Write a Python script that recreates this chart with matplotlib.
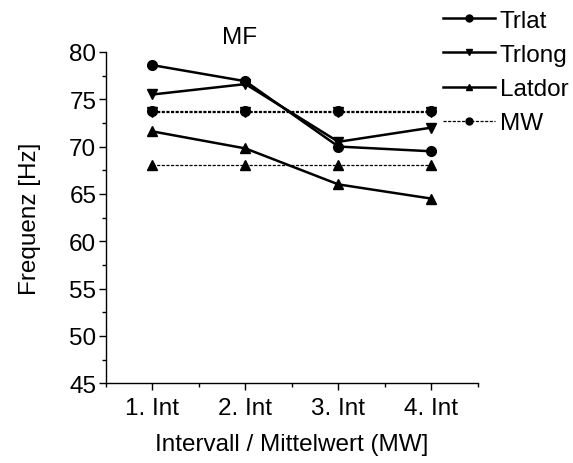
import matplotlib
matplotlib.use("Agg")
import matplotlib.pyplot as plt
from matplotlib.ticker import MultipleLocator
from matplotlib.lines import Line2D

plt.rcParams['font.family'] = ['Liberation Sans', 'DejaVu Sans']

# Data: dominant frequency per interval
categories = ["1. Int", "2. Int", "3. Int", "4. Int"]
trlat = [78.6, 76.9, 70.0, 69.5]
trlong = [75.5, 76.6, 70.5, 72.0]
latdor = [71.6, 69.8, 66.0, 64.5]
# Mean values (MW) of each series
mw_trlat = [73.75, 73.75, 73.75, 73.75]
mw_trlong = [73.65, 73.65, 73.65, 73.65]
mw_latdor = [68.0, 68.0, 68.0, 68.0]

x = list(range(1, len(categories) + 1))

fig = plt.figure(figsize=(5.73, 4.64), dpi=100)
ax = fig.add_axes([0.185, 0.172, 0.649, 0.714])

fs = 17.5
lw = 1.8
ms = 7
dash = (0, (2.5, 1.2))

ax.plot(x, mw_trlat, color='black', lw=0.9, ls=dash, marker='o', ms=ms, zorder=2)
ax.plot(x, mw_trlong, color='black', lw=0.9, ls=dash, marker='v', ms=ms, zorder=2)
ax.plot(x, mw_latdor, color='black', lw=0.9, ls=dash, marker='^', ms=ms, zorder=2)

ax.plot(x, trlat, color='black', lw=lw, marker='o', ms=ms, zorder=3)
ax.plot(x, trlong, color='black', lw=lw, marker='v', ms=ms, zorder=3)
ax.plot(x, latdor, color='black', lw=lw, marker='^', ms=ms, zorder=3)

handles = [
    Line2D([], [], color='black', lw=lw, marker='o', ms=5, label='Trlat'),
    Line2D([], [], color='black', lw=lw, marker='v', ms=5, label='Trlong'),
    Line2D([], [], color='black', lw=lw, marker='^', ms=5, label='Latdor'),
    Line2D([], [], color='black', lw=0.9, ls=dash, marker='o', ms=5, label='MW'),
]

ax.set_xlim(0.5, 4.5)
ax.set_ylim(45, 80)
ax.set_xticks(x)
ax.set_xticklabels(categories)
ax.xaxis.set_minor_locator(MultipleLocator(1, offset=0.5))
ax.yaxis.set_major_locator(MultipleLocator(5))
ax.yaxis.set_minor_locator(MultipleLocator(2.5))

for s in ['top', 'right']:
    ax.spines[s].set_visible(False)
for s in ['left', 'bottom']:
    ax.spines[s].set_linewidth(1.0)

ax.tick_params(axis='both', which='major', direction='out', length=5, width=1.0,
               labelsize=fs, pad=2)
ax.tick_params(axis='both', which='minor', direction='out', length=3, width=1.0)
ax.tick_params(axis='x', which='major', pad=5)

ax.set_xlabel("Intervall / Mittelwert (MW]", fontsize=fs, labelpad=10)
ax.set_ylabel("Frequenz [Hz]", fontsize=fs, labelpad=20)

fig.text(240 / 573, 1 - 38 / 464, "MF", fontsize=fs, ha='center', va='center')

fig.legend(handles=handles, loc='upper left',
           bbox_to_anchor=(433 / 573, 1 - 1 / 464), frameon=False,
           fontsize=fs, handlelength=2.15, handletextpad=0.2,
           labelspacing=0.5, borderaxespad=0)

fig.savefig("out.png", dpi=100)
